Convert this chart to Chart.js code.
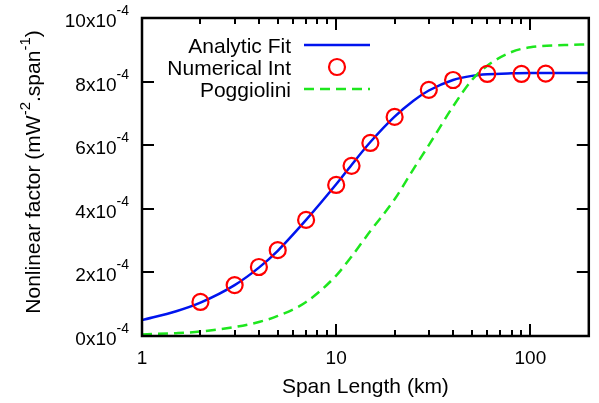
<!DOCTYPE html>
<html>
<head>
<meta charset="utf-8">
<script src="https://cdn.jsdelivr.net/npm/chart.js@4"></script>
<style>
html,body{margin:0;padding:0;background:#fff;}
#wrap{width:599px;height:403px;}
</style>
</head>
<body>
<div id="wrap"><canvas id="c" width="599" height="403"></canvas></div>
<script>
// Values in units of 1e-4 mW^-2.span^-1
const fitX = [1, 1.5, 2, 3, 4, 5, 7, 10, 12, 15, 20, 25, 30, 40, 50, 60, 80, 100, 150, 200];
const fitY = [0.50, 0.78, 1.05, 1.60, 2.15, 2.68, 3.65, 4.77, 5.38, 6.10, 6.90, 7.40, 7.72, 8.05, 8.18, 8.23, 8.26, 8.27, 8.27, 8.27];
const numX = [2, 3, 4, 5, 7, 10, 12, 15, 20, 30, 40, 60, 90, 120];
const numY = [1.07, 1.60, 2.17, 2.70, 3.65, 4.75, 5.35, 6.07, 6.89, 7.74, 8.05, 8.24, 8.24, 8.25];
const pogX = [1, 1.5, 2, 3, 4, 5, 7, 10, 12, 15, 20, 25, 30, 40, 50, 60, 80, 100, 150, 200];
const pogY = [0.05, 0.09, 0.14, 0.28, 0.44, 0.63, 1.07, 1.90, 2.50, 3.30, 4.30, 5.25, 6.00, 7.22, 8.05, 8.50, 8.93, 9.08, 9.15, 9.17];
const yTicks = [0, 2, 4, 6, 8, 10];
const xMajor = [1, 10, 100];
const xMinor = [2, 3, 4, 5, 6, 7, 8, 9, 20, 30, 40, 50, 60, 70, 80, 90, 200];
const legendLabels = ['Analytic Fit', 'Numerical Int', 'Poggiolini'];

const BLUE = '#0014ee', RED = '#ff0000', GREEN = '#1ee61e';
const FONT = '"Liberation Sans", Arial, Helvetica, sans-serif';

function pairs(xs, ys){ return xs.map((x,i)=>({x:x, y:ys[i]})); }

const decor = {
  id: 'decor',
  afterDatasetsDraw(chart){
    const ctx = chart.ctx, a = chart.chartArea;
    const xs = chart.scales.x, ys = chart.scales.y;
    ctx.save();
    ctx.strokeStyle = '#000';
    ctx.lineWidth = 2;
    ctx.beginPath();
    yTicks.forEach(v=>{
      const y = Math.round(ys.getPixelForValue(v));
      ctx.moveTo(a.left, y); ctx.lineTo(a.left+12, y);
      ctx.moveTo(a.right, y); ctx.lineTo(a.right-12, y);
    });
    xMajor.forEach(v=>{
      const x = Math.round(xs.getPixelForValue(v));
      ctx.moveTo(x, a.bottom); ctx.lineTo(x, a.bottom-12);
      ctx.moveTo(x, a.top); ctx.lineTo(x, a.top+12);
    });
    xMinor.forEach(v=>{
      const x = Math.round(xs.getPixelForValue(v));
      ctx.moveTo(x, a.bottom); ctx.lineTo(x, a.bottom-6);
      ctx.moveTo(x, a.top); ctx.lineTo(x, a.top+6);
    });
    ctx.stroke();
    ctx.lineWidth = 2.5;
    ctx.strokeRect(a.left, a.top, a.right-a.left, a.bottom-a.top);

    // y tick labels
    ctx.fillStyle = '#000';
    ctx.textBaseline = 'alphabetic';
    yTicks.forEach(v=>{
      const y = ys.getPixelForValue(v);
      ctx.font = '14px ' + FONT;
      const sup = '-4';
      const sw = ctx.measureText(sup).width;
      ctx.textAlign = 'left';
      ctx.fillText(sup, 129 - sw, y - 3);
      ctx.font = '19px ' + FONT;
      ctx.textAlign = 'right';
      ctx.fillText(v + 'x10', 129 - sw, y + 9);
    });
    // x tick labels
    ctx.font = '19px ' + FONT;
    ctx.textAlign = 'center';
    xMajor.forEach(v=>{
      const x = xs.getPixelForValue(v);
      ctx.fillText(String(v), x, 364);
    });
    // x title
    ctx.font = '21px ' + FONT;
    ctx.fillText('Span Length (km)', (a.left+a.right)/2, 393);

    // y title with superscripts
    const parts = [['Nonlinear factor (mW',0],['-2',1],['.span',0],['-1',1],[')',0]];
    const big = '21px ' + FONT, small = '15px ' + FONT;
    let total = 0;
    parts.forEach(p=>{ ctx.font = p[1]?small:big; total += ctx.measureText(p[0]).width; });
    ctx.save();
    ctx.translate(40, 172);
    ctx.rotate(-Math.PI/2);
    ctx.textAlign = 'left';
    let cx = -total/2;
    parts.forEach(p=>{
      ctx.font = p[1]?small:big;
      ctx.fillText(p[0], cx, p[1] ? -10 : 0);
      cx += ctx.measureText(p[0]).width;
    });
    ctx.restore();

    // legend
    const rows = [45, 67, 89];
    ctx.font = '21px ' + FONT;
    ctx.textAlign = 'right';
    rows.forEach((ry,i)=>{ ctx.fillText(legendLabels[i], 291, ry + 7.5); });
    ctx.lineWidth = 2.5;
    ctx.strokeStyle = BLUE;
    ctx.beginPath(); ctx.moveTo(304, rows[0]); ctx.lineTo(370, rows[0]); ctx.stroke();
    ctx.strokeStyle = RED; ctx.lineWidth = 2.2;
    ctx.beginPath(); ctx.arc(337, rows[1], 8, 0, Math.PI*2); ctx.stroke();
    ctx.strokeStyle = GREEN; ctx.lineWidth = 2.5;
    ctx.setLineDash([10,6]);
    ctx.beginPath(); ctx.moveTo(304, rows[2]); ctx.lineTo(370, rows[2]); ctx.stroke();
    ctx.setLineDash([]);
    ctx.restore();
  }
};

new Chart(document.getElementById('c'), {
  type: 'line',
  data: {
    datasets: [
      { label: legendLabels[0], data: pairs(fitX, fitY), borderColor: BLUE, borderWidth: 2.5,
        pointRadius: 0, cubicInterpolationMode: 'monotone', fill: false, order: 2 },
      { label: legendLabels[1], data: pairs(numX, numY), borderColor: RED, borderWidth: 2.2,
        backgroundColor: 'rgba(0,0,0,0)', showLine: false, pointRadius: 8, pointStyle: 'circle', order: 0 },
      { label: legendLabels[2], data: pairs(pogX, pogY), borderColor: GREEN, borderWidth: 2.5,
        borderDash: [10,6], pointRadius: 0, cubicInterpolationMode: 'monotone', fill: false, order: 1 }
    ]
  },
  options: {
    responsive: false,
    animation: false,
    layout: { padding: { left: 142, top: 18, right: 10, bottom: 67 } },
    plugins: { legend: { display: false }, tooltip: { enabled: false } },
    scales: {
      x: { type: 'logarithmic', min: 1, max: 200, display: false },
      y: { type: 'linear', min: 0, max: 10, display: false }
    }
  },
  plugins: [decor]
});
</script>
</body>
</html>
